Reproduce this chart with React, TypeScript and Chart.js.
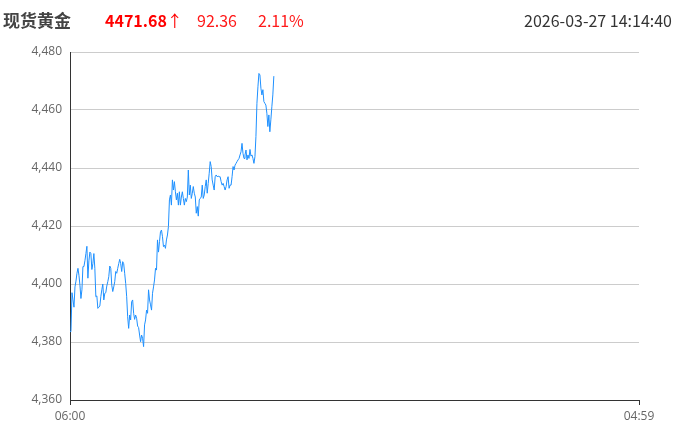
import React, { useEffect, useRef } from "react";
import { Chart, registerables } from "chart.js";

Chart.register(...registerables);

const title = "现货黄金";
const lastPrice = "4471.68";
const change = "92.36";
const changePct = "2.11%";
const timestamp = "2026-03-27 14:14:40";

const xTickLabels = ["06:00", "04:59"];
const sessionMinutes = 1379; // 06:00 -> 04:59 next day
const elapsedMinutes = 494; // 06:00 -> 14:14

const yMin = 4360;
const yMax = 4480;
const yStep = 20;

// price samples, evenly spaced from 06:00 to 14:14
const prices = [
  4383.6, 4384, 4397, 4394.5, 4392, 4399, 4401, 4403.7, 4405.4, 4403, 4399.6, 4395,
  4398, 4406, 4406, 4408, 4410.5, 4413, 4402, 4408, 4411, 4410.5, 4405, 4407,
  4410.5, 4405.4, 4395.6, 4395.9, 4391.6, 4392, 4392.4, 4395.6, 4398, 4400, 4394.5, 4396.8,
  4397, 4399.3, 4400.8, 4402.5, 4406.2, 4405.4, 4399.6, 4397.4, 4399, 4400.8, 4404.3, 4403.7,
  4405.4, 4407, 4408.5, 4407, 4404.3, 4407.7, 4407, 4403.7, 4400.2, 4395.6, 4388.7, 4384.7,
  4389.3, 4387.6, 4393.9, 4394.5, 4389.9, 4387.8, 4389.3, 4388.2, 4385.5, 4385, 4382.4, 4380.1,
  4382.4, 4381.3, 4378.4, 4385.9, 4387.6, 4391, 4389.9, 4398, 4394.5, 4392.8, 4391, 4396.8,
  4399, 4401.4, 4405.4, 4404.8, 4415.2, 4411, 4414.6, 4418, 4418.6, 4416.3, 4412.9, 4413.4,
  4412.3, 4415.2, 4416.9, 4419.8, 4429, 4430.7, 4427.2, 4435.9, 4432.4, 4435.3, 4431.8, 4429,
  4431.3, 4427.2, 4431.8, 4427.2, 4430, 4431.8, 4429.5, 4427.2, 4429.5, 4428.4, 4430, 4439.3,
  4430.7, 4434.1, 4429.5, 4431.3, 4433.6, 4431.3, 4430, 4424.4, 4426.7, 4423.4, 4429, 4429.5,
  4430, 4434.1, 4429.5, 4430.7, 4433.6, 4435.9, 4431.3, 4434.7, 4438.2, 4442.2, 4440.5, 4435.9,
  4434.1, 4432.4, 4437, 4437.6, 4437, 4437.2, 4437, 4437, 4435.3, 4434.1, 4434.7, 4433.6,
  4432.4, 4433.6, 4435.9, 4437, 4433, 4434.1, 4434.1, 4437, 4440.5, 4439.3, 4441, 4441.6,
  4442.2, 4442.8, 4443.3, 4444.5, 4445.6, 4448.5, 4445, 4443.3, 4444.5, 4446.2, 4442.8, 4444.5,
  4443.3, 4446.4, 4444.1, 4444.5, 4443.3, 4441.6, 4443.9, 4450.8, 4462.3, 4468, 4472.6, 4472.1,
  4467.5, 4465.2, 4467, 4462.9, 4462.3, 4461.7, 4458.9, 4454.3, 4458.3, 4452.5, 4456.6, 4461.1,
  4465.2, 4471.68,
];

export default function App() {
  const canvasRef = useRef<HTMLCanvasElement | null>(null);

  useEffect(() => {
    if (!canvasRef.current) return;
    const step = elapsedMinutes / (prices.length - 1);
    const points = prices.map((v, i) => ({ x: i * step, y: v }));
    const chart = new Chart(canvasRef.current, {
      type: "line",
      data: {
        datasets: [
          {
            data: points,
            borderColor: "#1e90ff",
            borderWidth: 1,
            pointRadius: 0,
            tension: 0,
            fill: false,
          },
        ],
      },
      options: {
        animation: false,
        responsive: false,
        maintainAspectRatio: false,
        layout: { padding: { top: 52, right: 55, left: 0, bottom: 0 } },
        plugins: { legend: { display: false }, tooltip: { enabled: false } },
        scales: {
          x: {
            type: "linear",
            min: 0,
            max: sessionMinutes,
            afterBuildTicks: (s: any) => {
              s.ticks = [{ value: 0 }, { value: sessionMinutes }];
            },
            afterFit: (s: any) => {
              s.height = 32;
            },
            ticks: {
              autoSkip: false,
              maxRotation: 0,
              color: "#666",
              font: { size: 12, family: "'Open Sans', sans-serif" },
              padding: 4,
              callback: (v: any) => (v === 0 ? xTickLabels[0] : xTickLabels[1]),
            },
            grid: { drawOnChartArea: false, drawTicks: true, tickLength: 5, color: "#333" },
            border: { color: "#333", width: 1 },
          },
          y: {
            min: yMin,
            max: yMax,
            afterFit: (s: any) => {
              s.width = 70;
            },
            ticks: {
              stepSize: yStep,
              color: "#666",
              font: { size: 12, family: "'Open Sans', sans-serif" },
              padding: 8,
            },
            grid: { color: "#ccc", drawTicks: false },
            border: { color: "#333", width: 1 },
          },
        },
      },
    });
    return () => chart.destroy();
  }, []);

  const base: React.CSSProperties = {
    position: "absolute",
    top: 9,
    fontFamily: "'Noto Sans CJK SC', 'Noto Sans', sans-serif",
    lineHeight: "22px",
    whiteSpace: "nowrap",
  };

  return (
    <div style={{ position: "fixed", left: 0, top: 0, width: 694, height: 432, background: "#fff" }}>
      <canvas ref={canvasRef} width={694} height={432} style={{ position: "absolute", left: 0, top: 0 }} />
      <div style={{ ...base, left: 3, fontSize: 17, fontWeight: 700, color: "#444" }}>{title}</div>
      <div style={{ ...base, left: 105, fontSize: 16, fontWeight: 700, color: "#ff0000" }}>
        {lastPrice}
        <span style={{ fontWeight: 400 }}>↑</span>
      </div>
      <div style={{ ...base, left: 197, fontSize: 16, color: "#ff1a1a" }}>{change}</div>
      <div style={{ ...base, left: 258, fontSize: 16, color: "#ff1a1a" }}>{changePct}</div>
      <div style={{ ...base, right: 22, fontSize: 16, color: "#333" }}>{timestamp}</div>
    </div>
  );
}
